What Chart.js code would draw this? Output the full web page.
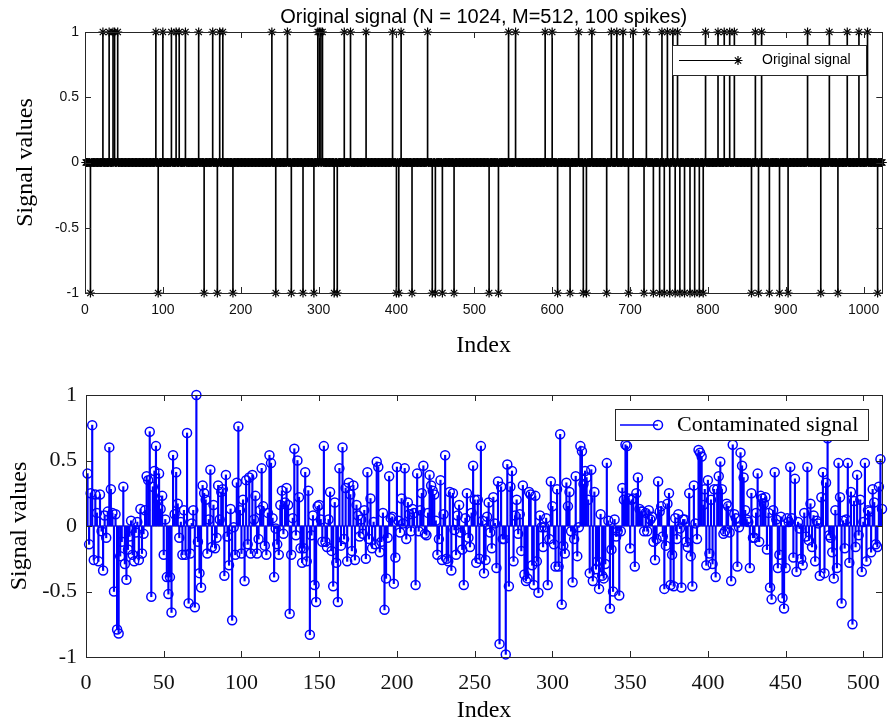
<!DOCTYPE html>
<html>
<head>
<meta charset="utf-8">
<title>Sparse signal recovery</title>
<script src="https://cdn.jsdelivr.net/npm/chart.js@4.4.1/dist/chart.umd.min.js"></script>
<style>
  html, body { margin: 0; padding: 0; background: #fff; overflow: hidden; }
  .panel { position: absolute; left: 0; width: 888px; height: 363px; }
  #topPanel { top: 0; }
  #bottomPanel { top: 363px; }
</style>
</head>
<body>
<div class="panel" id="topPanel"><canvas id="origChart"></canvas></div>
<div class="panel" id="bottomPanel"><canvas id="contChart"></canvas></div>
<script>
// ---- data ----
var N = 1024;
var M = 512;

// spike positions of the sparse original signal (+1 and -1)
var spikeUp = [23, 31, 36, 38, 42, 91, 100, 111, 117, 121, 129, 146, 164, 173, 177, 240, 260,
               299, 301, 303, 305, 333, 341, 361, 395, 406, 440, 544, 553, 591, 600, 634, 651,
               676, 683, 691, 704, 721, 741, 748, 755, 761, 797, 813, 821, 828, 834, 861, 869,
               928, 956, 979, 994, 1005];
var spikeDown = [7, 94, 153, 170, 190, 245, 265, 280, 294, 320, 324, 400, 403, 420, 446, 450,
                 459, 474, 519, 531, 607, 623, 640, 644, 670, 698, 718, 730, 738, 744, 751, 758,
                 764, 770, 777, 783, 789, 794, 856, 865, 879, 892, 903, 945, 967, 1018];

// M noisy measurements
var contaminated = [
   0.40, -0.14,  0.25,  0.77, -0.26,  0.24,  0.10, -0.27,  0.24, -0.04, -0.34,  0.08, -0.09,  0.11,  0.60,  0.28,
   0.10, -0.50,  0.09, -0.79, -0.82, -0.23, -0.12,  0.30, -0.29, -0.41, -0.18, -0.08,  0.04, -0.22, -0.27, -0.05,
   0.03, -0.26,  0.13, -0.21, -0.06,  0.12,  0.38,  0.35,  0.72, -0.54,  0.30,  0.42,  0.61,  0.20,  0.40,  0.13,
   0.23, -0.22,  0.05, -0.39, -0.52, -0.39, -0.66,  0.54,  0.09,  0.41,  0.17, -0.09,  0.03, -0.22,  0.12, -0.22,
   0.71, -0.59, -0.21,  0.02,  0.12, -0.62,  1.00, -0.12, -0.36, -0.47,  0.31,  0.25,  0.20, -0.21,  0.05,  0.43,
  -0.16,  0.16, -0.17, -0.09,  0.31,  0.05,  0.26,  0.28, -0.38,  0.39, -0.08, -0.30,  0.13, -0.72, -0.01, -0.22,
   0.33,  0.76,  0.12, -0.21,  0.20, -0.42,  0.35, -0.14,  0.37, -0.21,  0.39,  0.05,  0.23, -0.21, -0.10,  0.12,
   0.44,  0.15, -0.15, -0.22,  0.10,  0.54,  0.48,  0.06, -0.39, -0.02, -0.14, -0.22,  0.16,  0.27, -0.06,  0.18,
   0.29,  0.16, -0.67, -0.22,  0.06,  0.59, -0.07,  0.50,  0.22, -0.17, -0.28, -0.17,  0.41, -0.27,  0.27, -0.83,
  -0.07,  0.08, -0.45, -0.58,  0.15,  0.16,  0.05, -0.12,  0.61, -0.12, -0.16,  0.05,  0.26, -0.19, -0.46,  0.18,
  -0.28, -0.58,  0.44, -0.15,  0.60, -0.10,  0.29, -0.27,  0.33,  0.24, -0.19,  0.31, -0.26,  0.16,  0.08, -0.08,
   0.05, -0.06,  0.12, -0.25,  0.41, -0.10,  0.21, -0.17,  0.03, -0.14,  0.49,  0.45, -0.20, -0.12,  0.10, -0.64,
  -0.40, -0.09,  0.38,  0.06,  0.07, -0.44, -0.24,  0.45,  0.04, -0.05,  0.21,  0.02,  0.44, -0.10,  0.18,  0.09,
  -0.04,  0.13,  0.10, -0.45,  0.40, -0.04,  0.12,  0.25,  0.46, -0.06, -0.07,  0.10,  0.39,  0.31,  0.27,  0.24,
   0.04, -0.22, -0.10,  0.35, -0.26,  0.09,  0.54, -0.25, -0.27,  0.26, -0.34,  0.25, -0.03, -0.22,  0.08,  0.16,
  -0.05, -0.18, -0.45,  0.06,  0.25, -0.09, -0.16,  0.10,  0.46,  0.20, -0.28,  0.20, -0.25,  0.61,  0.04, -0.36,
  -0.26,  0.07,  0.18, -0.05, -0.17,  0.22,  0.02, -0.32,  0.34, -0.90,  0.30, -0.10, -0.10, -0.98,  0.47, -0.46,
   0.30,  0.42, -0.27,  0.08,  0.20, -0.06,  0.09, -0.19,  0.31, -0.37, -0.42, -0.40,  0.26,  0.24, -0.30, -0.45,
   0.23, -0.27, -0.51,  0.08, -0.01, -0.16, -0.01,  0.06, -0.45, -0.10,  0.34,  0.15, -0.14, -0.31,  0.28, -0.31,
   0.70, -0.60, -0.15, -0.21,  0.33,  0.15,  0.26, -0.04, -0.43, -0.10,  0.38, -0.23, -0.01,  0.61,  0.57,  0.32,
   0.42,  0.37,  0.20, -0.36,  0.43, -0.42,  0.26, -0.33, -0.27, -0.48,  0.09, -0.38, -0.40, -0.29,  0.48,  0.04,
  -0.63, -0.18, -0.50,  0.05, -0.08, -0.04, -0.53, -0.04,  0.29,  0.20,  0.62,  0.61,  0.21, -0.17,  0.20,  0.21,
  -0.31,  0.25,  0.37,  0.13,  0.11,  0.11, -0.04,  0.10, -0.04,  0.12,  0.05,  0.07, -0.12, -0.26, -0.10,  0.34,
   0.11,  0.15, -0.08, -0.48, -0.15,  0.17,  0.25, -0.45, -0.22, -0.46,  0.06, -0.10,  0.09, -0.02, -0.47,  0.05,
   0.05, -0.12, -0.16,  0.25, -0.23, -0.46,  0.31,  0.02, -0.10,  0.58,  0.56,  0.53,  0.16,  0.28, -0.30,  0.35,
  -0.21,  0.20, -0.29,  0.28, -0.39,  0.28,  0.38,  0.49,  0.28, -0.06, -0.04,  0.17,  0.15, -0.05, -0.42,  0.62,
   0.09,  0.06, -0.31, -0.01,  0.56,  0.46,  0.37,  0.12,  0.05,  0.03, -0.32,  0.25, -0.09, -0.09,  0.10,  0.40,
  -0.12,  0.23,  0.21,  0.17,  0.22, -0.18,  0.10, -0.47, -0.56,  0.12,  0.41,  0.05, -0.32, -0.22,  0.07, -0.55,
  -0.63, -0.32,  0.06,  0.03,  0.45,  0.06, -0.24,  0.36, -0.35,  0.03, -0.02, -0.25, -0.30,  0.10, -0.08,  0.45,
  -0.11,  0.17, -0.16,  0.08, -0.27,  0.04,  0.02, -0.38,  0.22,  0.41, -0.36,  0.33,  0.67, -0.07, -0.09, -0.20,
  -0.40,  0.12, -0.32,  0.48,  0.22, -0.59,  0.04, -0.17,  0.05,  0.48, -0.28,  0.26, -0.75,  0.19, -0.16,  0.39,
  -0.07,  0.20, -0.35,  0.03,  0.48, -0.27,  0.12,  0.11, -0.20,  0.28,  0.18, -0.14, -0.16,  0.30,  0.51,  0.13
];

var topXTicks = [0, 100, 200, 300, 400, 500, 600, 700, 800, 900, 1000];
var bottomXTicks = [0, 50, 100, 150, 200, 250, 300, 350, 400, 450, 500];
var yTicks = [-1, -0.5, 0, 0.5, 1];

var sansFont = "'Liberation Sans', Arial, Helvetica, sans-serif";
var serifFont = "'Liberation Serif', 'Times New Roman', serif";

// build the original signal: zeros with +/-1 spikes
var original = [];
for (var i = 0; i < N; i++) original.push(0);
spikeUp.forEach(function(k) { original[k - 1] = 1; });
spikeDown.forEach(function(k) { original[k - 1] = -1; });

function stemPoints(values) {
  return values.map(function(v, i) { return { x: i + 1, y: v }; });
}

// ---- plugins ----

// box around the axes with inward tick marks on every side
var boxTicks = {
  id: 'boxTicks',
  afterDatasetsDraw: function(chart) {
    var a = chart.chartArea, ctx = chart.ctx;
    var xs = chart.scales.x, ys = chart.scales.y, len = 6;
    ctx.save();
    ctx.strokeStyle = '#262626';
    ctx.lineWidth = 1;
    ctx.beginPath();
    xs.ticks.forEach(function(t) {
      var px = Math.round(xs.getPixelForValue(t.value)) + 0.5;
      ctx.moveTo(px, a.bottom); ctx.lineTo(px, a.bottom - len);
      ctx.moveTo(px, a.top); ctx.lineTo(px, a.top + len);
    });
    ys.ticks.forEach(function(t) {
      var py = Math.round(ys.getPixelForValue(t.value)) + 0.5;
      ctx.moveTo(a.left, py); ctx.lineTo(a.left + len, py);
      ctx.moveTo(a.right, py); ctx.lineTo(a.right - len, py);
    });
    ctx.stroke();
    ctx.strokeRect(Math.round(a.left) + 0.5, Math.round(a.top) + 0.5,
                   Math.round(a.right - a.left), Math.round(a.bottom - a.top));
    ctx.restore();
  }
};

function drawMarker(ctx, style, r, x, y) {
  ctx.beginPath();
  if (style === 'star') {
    var d = r * Math.SQRT1_2;
    ctx.moveTo(x - r, y); ctx.lineTo(x + r, y);
    ctx.moveTo(x, y - r); ctx.lineTo(x, y + r);
    ctx.moveTo(x - d, y - d); ctx.lineTo(x + d, y + d);
    ctx.moveTo(x - d, y + d); ctx.lineTo(x + d, y - d);
  } else {
    ctx.arc(x, y, r, 0, Math.PI * 2);
  }
  ctx.stroke();
}

// legend box placed inside the axes
var insetLegend = {
  id: 'insetLegend',
  afterDraw: function(chart, args, o) {
    var ctx = chart.ctx;
    var ds = chart.data.datasets[0];
    ctx.save();
    ctx.fillStyle = '#fff';
    ctx.fillRect(o.left, o.top, o.width, o.height);
    ctx.strokeStyle = '#262626';
    ctx.lineWidth = 1;
    ctx.strokeRect(o.left + 0.5, o.top + 0.5, o.width, o.height);
    var cy = o.top + o.height / 2 + 0.5;
    ctx.strokeStyle = ds.borderColor;
    ctx.lineWidth = o.lineWidth;
    ctx.beginPath();
    ctx.moveTo(o.left + o.lineStart, cy);
    ctx.lineTo(o.left + o.lineEnd, cy);
    ctx.stroke();
    ctx.lineWidth = ds.borderWidth;
    drawMarker(ctx, ds.pointStyle, ds.pointRadius, o.left + o.lineEnd, cy);
    ctx.fillStyle = '#000';
    ctx.font = o.font;
    ctx.textBaseline = 'middle';
    ctx.fillText(ds.label, o.left + o.textX, cy);
    ctx.restore();
  }
};

// title centred over the plot area
var axesTitle = {
  id: 'axesTitle',
  afterDraw: function(chart, args, o) {
    if (!o.text) return;
    var a = chart.chartArea, ctx = chart.ctx;
    ctx.save();
    ctx.font = o.font;
    ctx.fillStyle = '#000';
    ctx.textAlign = 'center';
    ctx.textBaseline = 'alphabetic';
    ctx.fillText(o.text, (a.left + a.right) / 2, a.top - o.gap);
    ctx.restore();
  }
};

// ---- chart factory ----
function makeStemChart(canvasId, cfg) {
  var pts = stemPoints(cfg.values);
  return new Chart(document.getElementById(canvasId), {
    data: {
      datasets: [
        {
          type: 'scatter',
          label: cfg.label,
          data: pts,
          showLine: false,
          pointStyle: cfg.marker,
          pointRadius: cfg.markerRadius,
          borderColor: cfg.color,
          backgroundColor: 'rgba(0,0,0,0)',
          borderWidth: cfg.markerWidth,
          clip: false,
          order: 0
        },
        {
          type: 'bar',
          data: pts,
          backgroundColor: cfg.color,
          borderWidth: 0,
          barThickness: cfg.stemWidth,
          grouped: false,
          order: 1
        },
        {
          type: 'line',
          data: [{ x: 0, y: 0 }, { x: cfg.xMax, y: 0 }],
          borderColor: cfg.baseColor,
          borderWidth: 1,
          pointRadius: 0,
          order: 2
        }
      ]
    },
    options: {
      responsive: true,
      maintainAspectRatio: false,
      animation: false,
      events: [],
      layout: { padding: { left: 0, right: cfg.padRight, top: 32, bottom: 0 } },
      plugins: {
        legend: { display: false },
        tooltip: { enabled: false },
        insetLegend: cfg.legend,
        axesTitle: cfg.title
      },
      scales: {
        x: {
          type: 'linear',
          offset: false,
          min: 0,
          max: cfg.xMax,
          afterBuildTicks: function(s) { s.ticks = cfg.xTicks.map(function(v) { return { value: v }; }); },
          afterFit: function(s) { s.height = cfg.xAxisHeight; s.paddingLeft = 0; s.paddingRight = 0; },
          grid: { display: false, drawTicks: false, offset: false },
          border: { display: false },
          ticks: {
            color: '#111',
            font: cfg.tickFont,
            padding: cfg.xTickPad,
            maxRotation: 0,
            autoSkip: false,
            callback: function(v) { return String(v); }
          },
          title: {
            display: true,
            text: 'Index',
            color: '#000',
            font: { family: serifFont, size: 24 },
            padding: { top: 0, bottom: cfg.xTitlePad }
          }
        },
        y: {
          min: -1,
          max: 1,
          afterBuildTicks: function(s) { s.ticks = yTicks.map(function(v) { return { value: v }; }); },
          afterFit: function(s) { s.width = cfg.yAxisWidth; },
          grid: { display: false, drawTicks: false },
          border: { display: false },
          ticks: {
            color: '#111',
            font: cfg.tickFont,
            padding: cfg.yTickPad,
            callback: function(v) { return String(v); }
          },
          title: {
            display: true,
            text: 'Signal values',
            color: '#000',
            font: { family: serifFont, size: 24 },
            padding: { top: cfg.yTitlePad, bottom: 0 }
          }
        }
      }
    },
    plugins: [boxTicks, insetLegend, axesTitle]
  });
}

makeStemChart('origChart', {
  values: original,
  label: 'Original signal',
  color: '#000',
  baseColor: '#000',
  marker: 'star',
  markerRadius: 4.5,
  markerWidth: 1.2,
  stemWidth: 1,
  xMax: N,
  xTicks: topXTicks,
  padRight: 3,
  xAxisHeight: 70,
  yAxisWidth: 85,
  tickFont: { family: sansFont, size: 14 },
  xTickPad: 9,
  yTickPad: 6,
  xTitlePad: 3,
  yTitlePad: 11,
  title: { text: 'Original signal (N = ' + N + ', M=' + M + ', 100 spikes)', font: '20px ' + sansFont, gap: 9 },
  legend: { left: 672, top: 45, width: 194, height: 30, lineStart: 7, lineEnd: 66, lineWidth: 1, textX: 90, font: '14px ' + sansFont }
});

makeStemChart('contChart', {
  values: contaminated,
  label: 'Contaminated signal',
  color: '#0000ff',
  baseColor: '#444',
  marker: 'circle',
  markerRadius: 4.5,
  markerWidth: 1.5,
  stemWidth: 1.5,
  xMax: M,
  xTicks: bottomXTicks,
  padRight: 6,
  xAxisHeight: 69,
  yAxisWidth: 86,
  tickFont: { family: serifFont, size: 22 },
  xTickPad: 13,
  yTickPad: 9,
  xTitlePad: 1,
  yTitlePad: 5,
  title: { text: '' },
  legend: { left: 615, top: 46, width: 253, height: 31, lineStart: 5, lineEnd: 43, lineWidth: 1.5, textX: 62, font: '22px ' + serifFont }
});
</script>
</body>
</html>
